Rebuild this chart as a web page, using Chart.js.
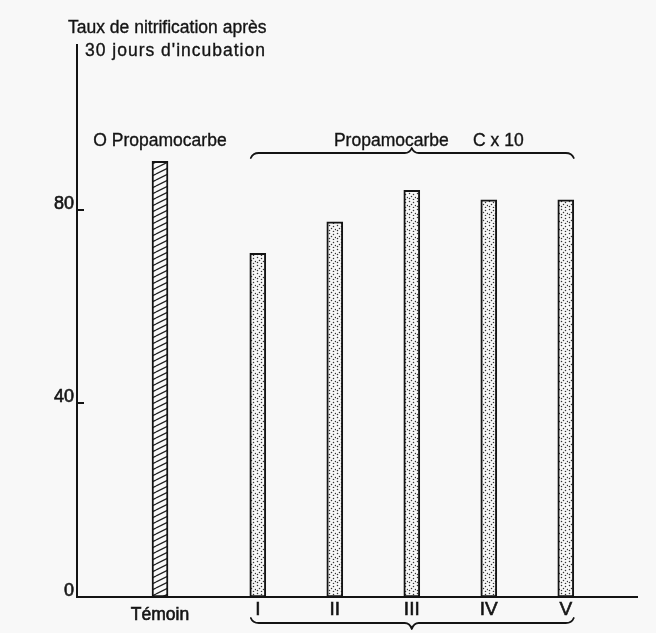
<!DOCTYPE html>
<html><head><meta charset="utf-8">
<script src="https://cdn.jsdelivr.net/npm/chart.js@4.4.1/dist/chart.umd.min.js"></script>
<style>html,body{margin:0;padding:0;background:#f8f8f8;}</style>
</head><body>
<canvas id="c" width="656" height="633" style="display:block;width:656px;height:633px"></canvas>
<script>
// ---- data ----
const categories = ['Témoin', 'I', 'II', 'III', 'IV', 'V'];
const nitrificationRate = [90, 71, 77.5, 84, 82, 82];
const yTickValues = [0, 40, 80];
const titleLines = ['Taux de nitrification après', "30 jours d'incubation"];
const controlLabel = 'O Propamocarbe';
const treatmentLabel = 'Propamocarbe     C x 10';

// ---- layout (not data) ----
const CONTROL_GAP = 1.27; // wider spacing between the control and treatment I
const xPos = categories.map((c, i) => i === 0 ? 0 : CONTROL_GAP + i - 1);
const INK = '#141414';
const FONT = "'Liberation Sans', Arial, sans-serif";

function hatchPattern() {
  const c = document.createElement('canvas'); c.width = 12; c.height = 6;
  const g = c.getContext('2d');
  g.fillStyle = '#fafafa'; g.fillRect(0, 0, 12, 6);
  g.strokeStyle = '#222'; g.lineWidth = 1.3;
  for (let k = -1; k <= 1; k++) {
    g.beginPath(); g.moveTo(0, 6 + k * 6); g.lineTo(12, 0 + k * 6); g.stroke();
  }
  return g.createPattern(c, 'repeat');
}
function dotPattern() {
  const c = document.createElement('canvas'); c.width = 8; c.height = 8;
  const g = c.getContext('2d');
  g.fillStyle = '#f7f7f7'; g.fillRect(0, 0, 8, 8);
  g.fillStyle = '#333';
  [[1,1],[5,2],[3,4],[7,5],[1,6],[5,7]].forEach(([x, y]) => { g.beginPath(); g.arc(x + 0.5, y + 0.5, 0.75, 0, Math.PI * 2); g.fill(); });
  return g.createPattern(c, 'repeat');
}
const hatch = hatchPattern(), dots = dotPattern();

function heavyText(ctx, s, x, y) { ctx.fillText(s, x, y); ctx.strokeText(s, x, y); }

const decor = {
  id: 'decor',
  beforeDraw(chart) {
    const ctx = chart.ctx; ctx.save(); ctx.fillStyle = '#f8f8f8'; ctx.fillRect(0, 0, chart.width, chart.height); ctx.restore();
  },
  afterDraw(chart) {
    const ctx = chart.ctx, ca = chart.chartArea, xs = chart.scales.x, ys = chart.scales.y;
    ctx.save();
    ctx.fillStyle = INK; ctx.strokeStyle = INK;
    ctx.font = '17.5px ' + FONT; ctx.textBaseline = 'alphabetic';
    ctx.lineWidth = 0.35;
    // title
    ctx.textAlign = 'left';
    heavyText(ctx, titleLines[0], ca.left - 9, ca.top - 12);
    ctx.letterSpacing = '1px';
    heavyText(ctx, titleLines[1], ca.left + 8, ca.top + 11);
    ctx.letterSpacing = '0px';
    // group labels
    const labY = ys.getPixelForValue(93.1);
    ctx.textAlign = 'center';
    heavyText(ctx, controlLabel, xs.getPixelForValue(xPos[0]), labY);
    heavyText(ctx, treatmentLabel, xs.getPixelForValue(xPos[3]) + 17, labY);
    // inner tick marks
    ctx.lineWidth = 2;
    yTickValues.forEach(v => { if (v > 0) { const p = Math.round(ys.getPixelForValue(v)); ctx.beginPath(); ctx.moveTo(ca.left, p); ctx.lineTo(ca.left + 7, p); ctx.stroke(); } });
    // braces
    const L = xs.getPixelForValue(xPos[1]) - 7, R = xs.getPixelForValue(xPos[5]) + 8, C = xs.getPixelForValue(xPos[3]);
    ctx.lineWidth = 1.8; ctx.lineJoin = 'round'; ctx.lineCap = 'round';
    const yt = ys.getPixelForValue(91.7);
    ctx.beginPath();
    ctx.moveTo(L, yt + 5); ctx.quadraticCurveTo(L + 2, yt, L + 8, yt);
    ctx.lineTo(C - 7, yt); ctx.quadraticCurveTo(C - 2, yt, C, yt - 5);
    ctx.quadraticCurveTo(C + 2, yt, C + 7, yt);
    ctx.lineTo(R - 8, yt); ctx.quadraticCurveTo(R - 2, yt, R, yt + 5);
    ctx.stroke();
    const yb = ca.bottom + 26;
    ctx.beginPath();
    ctx.moveTo(L, yb - 5); ctx.quadraticCurveTo(L + 2, yb, L + 8, yb);
    ctx.lineTo(C - 7, yb); ctx.quadraticCurveTo(C - 2, yb, C, yb + 6);
    ctx.quadraticCurveTo(C + 2, yb, C + 7, yb);
    ctx.lineTo(R - 8, yb); ctx.quadraticCurveTo(R - 2, yb, R, yb - 5);
    ctx.stroke();
    ctx.restore();
  }
};

new Chart(document.getElementById('c'), {
  type: 'bar',
  data: {
    datasets: [{
      label: 'Taux de nitrification',
      data: categories.map((c, i) => ({ x: xPos[i], y: nitrificationRate[i] })),
      backgroundColor: (ctx) => ctx.dataIndex === 0 ? hatch : dots,
      borderColor: INK,
      borderWidth: 2,
      borderSkipped: false,
      barThickness: 16
    }]
  },
  options: {
    responsive: false,
    animation: false,
    devicePixelRatio: 1,
    layout: { padding: { top: 45, right: 19, left: 0, bottom: 0 } },
    plugins: { legend: { display: false }, tooltip: { enabled: false }, title: { display: false } },
    scales: {
      x: {
        type: 'linear', min: -1.078, max: 6.195, offset: false,
        afterBuildTicks: (s) => { s.ticks = xPos.map(v => ({ value: v })); },
        afterFit: (s) => { s.height = 36; },
        grid: { display: false, drawTicks: false },
        border: { display: true, color: INK, width: 2 },
        ticks: {
          autoSkip: false, maxRotation: 0, padding: 4, color: INK,
          textStrokeColor: INK, textStrokeWidth: 0.6,
          callback: (v, i) => categories[i],
          font: (ctx) => ctx.index === 0
            ? { family: FONT, size: 17.5, lineHeight: 1.6 }
            : { family: FONT, size: 19, lineHeight: 0.88 }
        }
      },
      y: {
        min: 0, max: 114,
        afterBuildTicks: (s) => { s.ticks = yTickValues.map(v => ({ value: v })); },
        afterFit: (s) => { s.width = 77; },
        grid: { display: false, drawTicks: false },
        border: { display: true, color: INK, width: 2 },
        ticks: { padding: 3, labelOffset: -6, color: INK, textStrokeColor: INK, textStrokeWidth: 0.6, font: { family: FONT, size: 18 } }
      }
    }
  },
  plugins: [decor]
});
</script>
</body></html>
